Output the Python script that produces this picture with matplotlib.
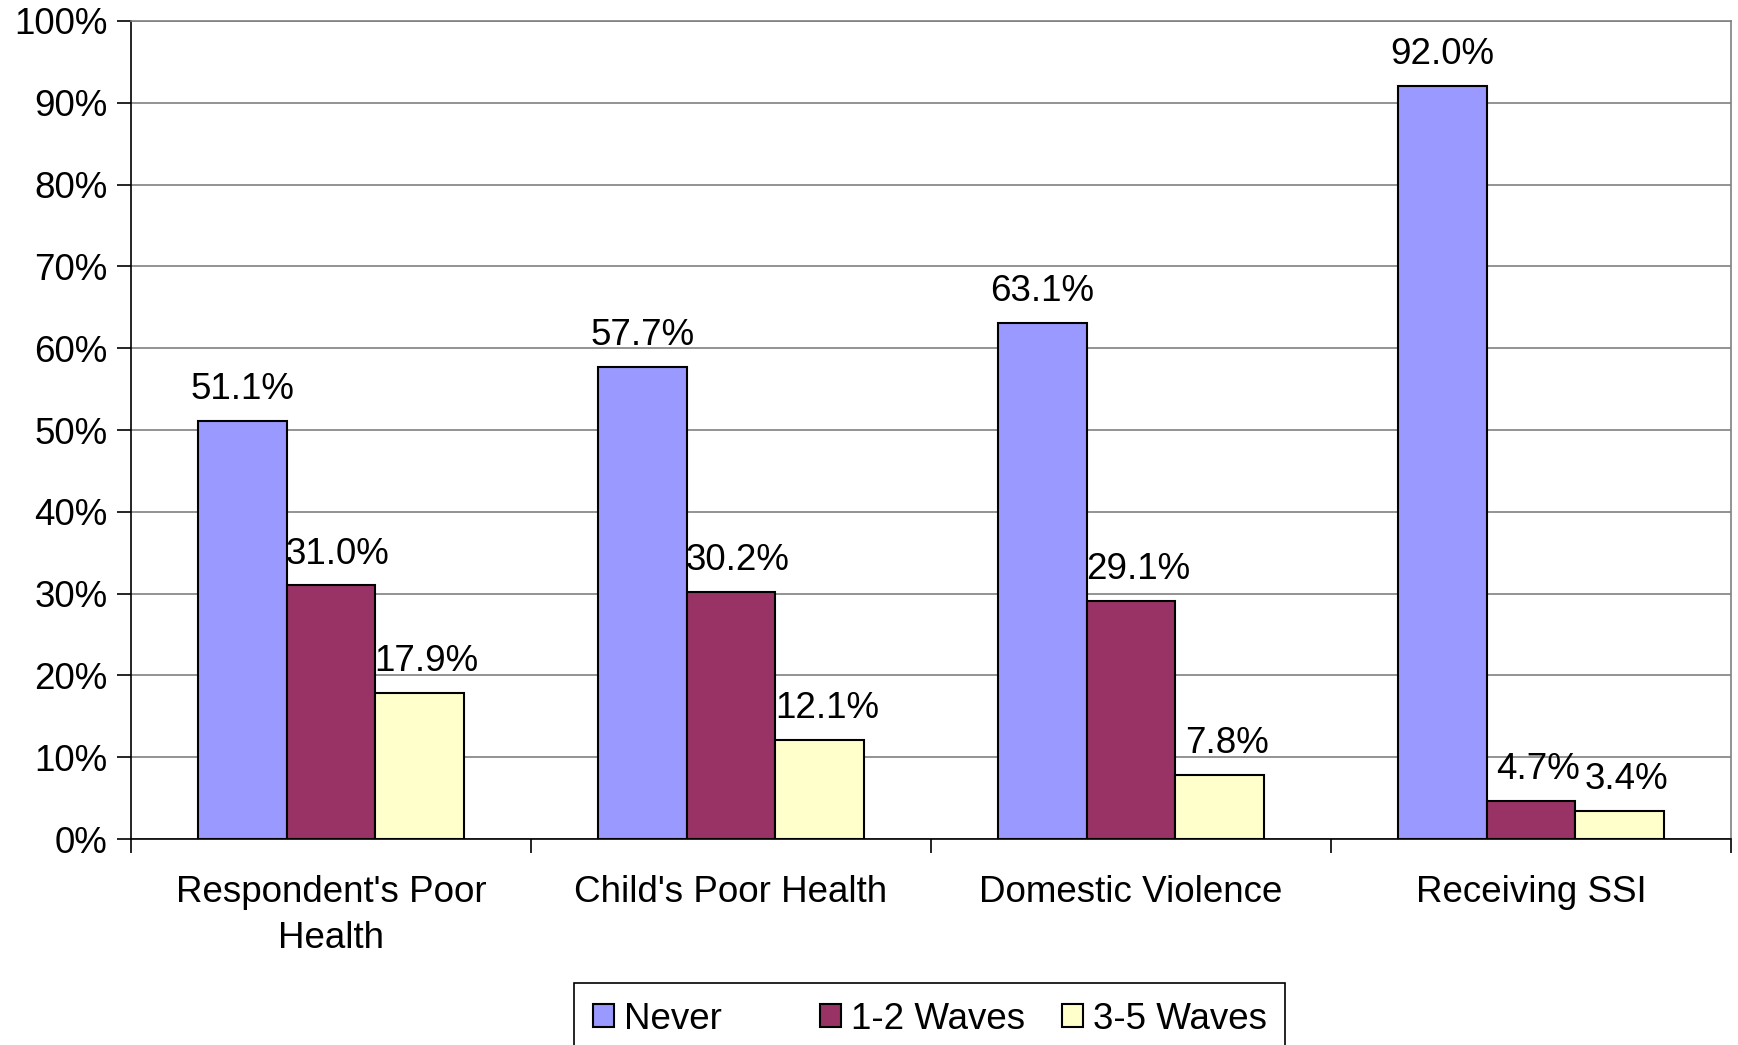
import matplotlib
matplotlib.use("Agg")
import matplotlib.pyplot as plt
import matplotlib.ticker as mticker
import numpy as np

plt.rcParams["font.family"] = ["Liberation Sans", "DejaVu Sans"]

categories = ["Respondent's Poor\nHealth", "Child's Poor Health", "Domestic Violence", "Receiving SSI"]
series_names = ["Never", "1-2 Waves", "3-5 Waves"]
never = [51.1, 57.7, 63.1, 92.0]
waves_1_2 = [31.0, 30.2, 29.1, 4.7]
waves_3_5 = [17.9, 12.1, 7.8, 3.4]
colors = ["#9999FF", "#993366", "#FFFFCC"]

FS = 26.5

fig = plt.figure(figsize=(17.38, 10.45), dpi=100)
ax = fig.add_axes([0.0754, 0.197, 0.9206, 0.783])

x = np.arange(len(categories))
width = 0.222
series = [never, waves_1_2, waves_3_5]

for i, (vals, name, col) in enumerate(zip(series, series_names, colors)):
    pos = x + (i - 1) * width
    # pad the first entry so the legend columns spread out
    label = name + "      " if i == 0 else name
    bars = ax.bar(pos, vals, width, color=col, edgecolor="black", linewidth=1.5,
                  label=label, zorder=3)
    # nudge labels of the shorter bars away from the taller neighbour
    dx = 5 if i > 0 else 0
    for b, v in zip(bars, vals):
        ax.annotate(f"{v:.1f}%", xy=(b.get_x() + b.get_width() / 2, v),
                    xytext=(dx, 10), textcoords="offset points",
                    ha="center", va="bottom", fontsize=FS)

ax.set_xlim(-0.5, len(categories) - 0.5)
ax.set_ylim(0, 100)
ax.yaxis.set_major_locator(mticker.MultipleLocator(10))
ax.yaxis.set_major_formatter(mticker.FuncFormatter(lambda v, _: f"{v:.0f}%"))
ax.grid(True, axis="y", color="#808080", linewidth=1.2, zorder=0)

# category labels sit between boundary ticks
ax.set_xticks(np.arange(len(categories) + 1) - 0.5)
ax.set_xticklabels([])
ax.set_xticks(x, minor=True)
ax.set_xticklabels(categories, minor=True, fontsize=FS, linespacing=1.4)
ax.tick_params(axis="x", which="minor", length=0, pad=26)
ax.tick_params(axis="x", which="major", length=10, width=1.2, direction="out")
ax.tick_params(axis="y", length=10, width=1.2, labelsize=FS, pad=7)

for side in ["top", "right"]:
    ax.spines[side].set_color("#808080")
    ax.spines[side].set_linewidth(1.2)
for side in ["left", "bottom"]:
    ax.spines[side].set_color("black")
    ax.spines[side].set_linewidth(1.2)

leg = fig.legend(loc="upper center", bbox_to_anchor=(0.535, 0.059), ncol=3,
                 fontsize=FS, frameon=True, fancybox=False, framealpha=1,
                 edgecolor="black", handlelength=0.57, handleheight=0.57,
                 handletextpad=0.27, columnspacing=1.0, borderpad=0.5,
                 borderaxespad=0)
leg.get_frame().set_linewidth(1.2)

fig.savefig("out.png", dpi=100)
